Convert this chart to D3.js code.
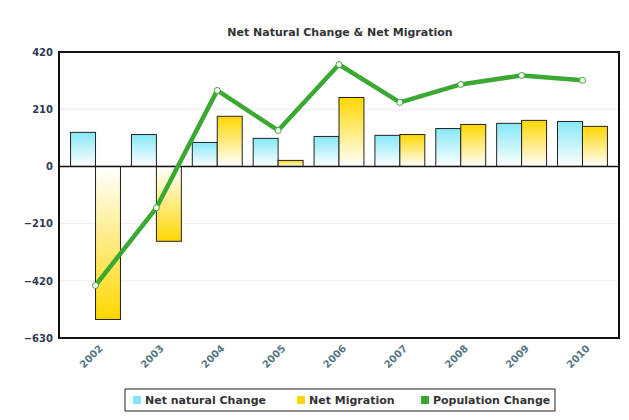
<!DOCTYPE html>
<html>
<head>
<meta charset="utf-8">
<script src="https://cdn.jsdelivr.net/npm/d3@7/dist/d3.min.js"></script>
<style>
  body { margin: 0; background: #fff; }
  svg text { font-family: "DejaVu Sans", sans-serif; }
</style>
</head>
<body>
<div class="chartBox"></div>
<script>
// data
var years = ['2002', '2003', '2004', '2005', '2006', '2007', '2008', '2009', '2010'];
var natural = [125, 117, 88, 103, 110, 114, 139, 158, 165];
var migration = [-562, -275, 184, 22, 253, 117, 154, 169, 147];
var popChange = [-437, -152, 279, 132, 374, 235, 301, 334, 316];
var yTicks = [420, 210, 0, -210, -420, -630];

var w = 629, h = 420;
var margin = { top: 52, right: 10, bottom: 82, left: 59 };
var pw = w - margin.left - margin.right,
    ph = h - margin.top - margin.bottom;

var svg = d3.select('div.chartBox')
  .append('svg')
  .attr('width', w)
  .attr('height', h);

var defs = svg.append('defs');
function grad(id, color, up) {
  var g = defs.append('linearGradient')
    .attr('id', id)
    .attr('x1', 0).attr('x2', 0)
    .attr('y1', up ? 0 : 1).attr('y2', up ? 1 : 0);
  g.append('stop').attr('offset', '0%').attr('stop-color', color);
  g.append('stop').attr('offset', '100%').attr('stop-color', '#ffffff');
}
grad('cyanUp', '#86e8f7', true);
grad('cyanDown', '#86e8f7', false);
grad('yelUp', '#ffd700', true);
grad('yelDown', '#ffd700', false);

svg.append('text')
  .attr('x', 340)
  .attr('y', 36)
  .attr('text-anchor', 'middle')
  .style('font-size', '11px')
  .style('font-weight', 'bold')
  .attr('fill', '#333')
  .text('Net Natural Change & Net Migration');

var g = svg.append('g')
  .attr('transform', 'translate(' + margin.left + ',' + margin.top + ')');

var x = d3.scaleBand().domain(years).range([0, pw]).paddingInner(0.18).paddingOuter(0.19);
var xs = d3.scaleBand().domain(['n', 'm']).range([0, x.bandwidth()]);
var y = d3.scaleLinear().domain([-630, 420]).range([ph, 0]);

// grid
g.selectAll('line.grid')
  .data(yTicks)
  .enter()
  .append('line')
  .attr('x1', 0).attr('x2', pw)
  .attr('y1', function(d) { return y(d); })
  .attr('y2', function(d) { return y(d); })
  .attr('stroke', '#ececec')
  .attr('stroke-width', 1);

// y axis labels
var yAxis = d3.axisLeft(y).tickValues(yTicks).tickSize(0).tickPadding(6);
var ya = g.append('g').call(yAxis);
ya.select('.domain').remove();
ya.selectAll('text')
  .style('font-size', '10px')
  .style('font-weight', 'bold')
  .attr('fill', '#2e3b55');

var series = [
  { key: 'n', vals: natural, up: 'url(#cyanUp)', down: 'url(#cyanDown)' },
  { key: 'm', vals: migration, up: 'url(#yelUp)', down: 'url(#yelDown)' }
];

series.forEach(function(s) {
  g.selectAll('rect.b' + s.key)
    .data(s.vals)
    .enter()
    .append('rect')
    .attr('class', 'b' + s.key)
    .attr('x', function(d, i) { return x(years[i]) + xs(s.key); })
    .attr('width', xs.bandwidth())
    .attr('y', function(d) { return y(Math.max(0, d)); })
    .attr('height', function(d) { return Math.abs(y(d) - y(0)); })
    .attr('fill', function(d) { return d >= 0 ? s.up : s.down; })
    .attr('stroke', '#222')
    .attr('stroke-width', 1);
});

// zero line
g.append('line')
  .attr('x1', 0).attr('x2', pw)
  .attr('y1', y(0)).attr('y2', y(0))
  .attr('stroke', '#111')
  .attr('stroke-width', 1.5);

// population line
var line = d3.line()
  .x(function(d, i) { return x(years[i]) + x.bandwidth() / 2; })
  .y(function(d) { return y(d); });

g.append('path')
  .datum(popChange)
  .attr('d', line)
  .attr('fill', 'none')
  .attr('stroke', '#3aa832')
  .attr('stroke-width', 4.5)
  .attr('stroke-linejoin', 'round');

g.selectAll('circle.pt')
  .data(popChange)
  .enter()
  .append('circle')
  .attr('class', 'pt')
  .attr('cx', function(d, i) { return x(years[i]) + x.bandwidth() / 2; })
  .attr('cy', function(d) { return y(d); })
  .attr('r', 3)
  .attr('fill', '#fff')
  .attr('stroke', '#3aa832')
  .attr('stroke-width', 1);

// frame
g.append('rect')
  .attr('width', pw)
  .attr('height', ph)
  .attr('fill', 'none')
  .attr('stroke', '#111')
  .attr('stroke-width', 2);

// x labels
g.selectAll('text.xl')
  .data(years)
  .enter()
  .append('text')
  .attr('class', 'xl')
  .attr('transform', function(d) {
    return 'translate(' + (x(d) + x.bandwidth() / 2 + 3) + ',' + (ph + 6) + ') rotate(-45)';
  })
  .attr('text-anchor', 'end')
  .attr('dy', '0.7em')
  .style('font-size', '10px')
  .style('font-weight', 'bold')
  .attr('fill', '#557585')
  .text(function(d) { return d; });

// legend
var legendItems = [
  { name: 'Net natural Change', color: '#7fe6f7', x: 133 },
  { name: 'Net Migration', color: '#ffd700', x: 297 },
  { name: 'Population Change', color: '#3aa832', x: 421 }
];
svg.append('rect')
  .attr('x', 125).attr('y', 389)
  .attr('width', 430).attr('height', 22)
  .attr('fill', '#fff')
  .attr('stroke', '#222')
  .attr('stroke-width', 1);

var li = svg.selectAll('g.li')
  .data(legendItems)
  .enter()
  .append('g')
  .attr('transform', function(d) { return 'translate(' + d.x + ',400)'; });
li.append('rect')
  .attr('x', 0).attr('y', -4)
  .attr('width', 8).attr('height', 8)
  .attr('fill', function(d) { return d.color; });
li.append('text')
  .attr('x', 12)
  .attr('dy', '0.35em')
  .style('font-size', '11px')
  .style('font-weight', 'bold')
  .attr('fill', '#333')
  .text(function(d) { return d.name; });
</script>
</body>
</html>
